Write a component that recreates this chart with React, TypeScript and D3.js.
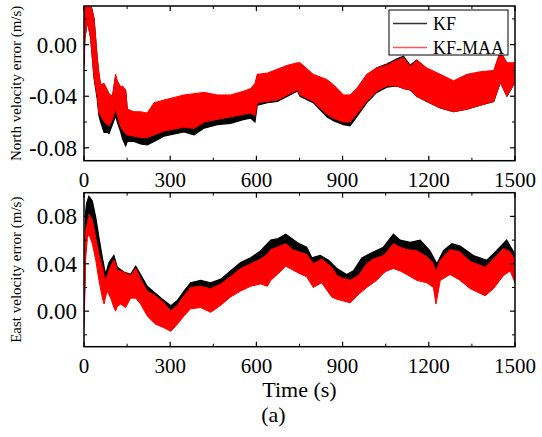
import React from "react";
import * as d3 from "d3";

// ---- data: [time (s), lower envelope, upper envelope] of each noisy series ----
const timeTicks = [0, 300, 600, 900, 1200, 1500];
const northTicks = [-0.08, -0.04, 0.0];
const eastTicks = [0.0, 0.04, 0.08];
const seriesNames = ["KF", "KF-MAA"];

const northKF: [number, number, number][] = [
  [0, -0.016, -0.005], [3, 0.005, 0.032], [12, 0.018, 0.032], [23, 0.006, 0.032],
  [35, -0.026, 0.02], [46, -0.042, -0.011], [52, -0.055, -0.024], [58, -0.06, -0.032],
  [70, -0.068, -0.032], [81, -0.068, -0.036], [87, -0.069, -0.039], [99, -0.062, -0.041],
  [110, -0.055, -0.025], [116, -0.06, -0.029], [128, -0.068, -0.034], [134, -0.073, -0.034],
  [145, -0.0785, -0.036], [151, -0.075, -0.052], [174, -0.075, -0.054], [197, -0.077, -0.055],
  [220, -0.0777, -0.055], [244, -0.075, -0.047], [278, -0.071, -0.045], [348, -0.0676, -0.041],
  [383, -0.07, -0.04], [418, -0.0647, -0.039], [464, -0.062, -0.041], [510, -0.061, -0.041],
  [557, -0.058, -0.038], [580, -0.057, -0.036], [595, -0.06, -0.033], [603, -0.047, -0.025],
  [638, -0.045, -0.024], [673, -0.044, -0.021], [708, -0.04, -0.017], [743, -0.036, -0.015],
  [752, -0.04, -0.015], [798, -0.045, -0.024], [845, -0.056, -0.028], [868, -0.059, -0.032],
  [903, -0.062, -0.04], [926, -0.063, -0.04], [949, -0.056, -0.035], [984, -0.045, -0.024],
  [1019, -0.037, -0.018], [1054, -0.033, -0.015], [1089, -0.032, -0.011], [1112, -0.034, -0.009],
  [1135, -0.035, -0.016], [1158, -0.04, -0.012], [1193, -0.044, -0.019], [1240, -0.049, -0.024],
  [1286, -0.052, -0.029], [1333, -0.05, -0.024], [1379, -0.047, -0.022], [1426, -0.044, -0.021],
  [1449, -0.029, -0.006], [1472, -0.04, -0.015], [1500, -0.029, -0.015],
];

const northMAA: [number, number, number][] = [
  [0, -0.016, -0.005], [3, 0.005, 0.032], [12, 0.018, 0.032], [23, 0.005, 0.032],
  [35, -0.025, 0.02], [46, -0.04, -0.01], [52, -0.053, -0.022], [58, -0.055, -0.031],
  [70, -0.06, -0.03], [81, -0.062, -0.035], [87, -0.063, -0.038], [99, -0.058, -0.04],
  [110, -0.05, -0.023], [116, -0.055, -0.028], [128, -0.064, -0.033], [134, -0.066, -0.032],
  [145, -0.069, -0.035], [151, -0.07, -0.05], [174, -0.071, -0.052], [197, -0.072, -0.052],
  [220, -0.072, -0.053], [244, -0.07, -0.045], [278, -0.067, -0.043], [348, -0.064, -0.039],
  [383, -0.065, -0.038], [418, -0.06, -0.037], [464, -0.058, -0.039], [510, -0.056, -0.039],
  [557, -0.054, -0.036], [580, -0.053, -0.034], [595, -0.055, -0.03], [603, -0.045, -0.023],
  [638, -0.044, -0.022], [673, -0.043, -0.019], [708, -0.039, -0.016], [743, -0.035, -0.014],
  [752, -0.039, -0.014], [798, -0.044, -0.023], [845, -0.054, -0.027], [868, -0.057, -0.031],
  [903, -0.06, -0.039], [926, -0.06, -0.039], [949, -0.054, -0.034], [984, -0.044, -0.023],
  [1019, -0.036, -0.018], [1054, -0.032, -0.016], [1089, -0.032, -0.012], [1112, -0.034, -0.01],
  [1135, -0.035, -0.017], [1158, -0.04, -0.012], [1193, -0.044, -0.018], [1240, -0.049, -0.023],
  [1286, -0.052, -0.028], [1333, -0.05, -0.023], [1379, -0.047, -0.021], [1426, -0.044, -0.02],
  [1449, -0.029, -0.005], [1472, -0.04, -0.014], [1500, -0.029, -0.014],
];

const eastKF: [number, number, number][] = [
  [0, -0.005, 0.01], [6, 0.06, 0.085], [9, 0.068, 0.091], [17, 0.075, 0.097],
  [29, 0.07, 0.093], [41, 0.058, 0.079], [52, 0.04, 0.062], [64, 0.025, 0.045],
  [75, 0.018, 0.031], [87, 0.022, 0.041], [104, 0.015, 0.047], [116, 0.012, 0.037],
  [139, 0.012, 0.033], [162, 0.015, 0.031], [180, 0.018, 0.038], [197, 0.014, 0.031],
  [220, 0.005, 0.021], [244, 0.0, 0.016], [273, -0.004, 0.01], [302, -0.008, 0.0045],
  [325, -0.004, 0.009], [348, 0.004, 0.017], [371, 0.01, 0.024], [406, 0.012, 0.026],
  [441, 0.01, 0.024], [476, 0.014, 0.027], [510, 0.02, 0.034], [545, 0.026, 0.041],
  [580, 0.03, 0.045], [615, 0.033, 0.051], [650, 0.04, 0.06], [673, 0.043, 0.061],
  [702, 0.046, 0.065], [725, 0.043, 0.061], [748, 0.04, 0.057], [775, 0.036, 0.054],
  [793, 0.03, 0.045], [822, 0.032, 0.047], [851, 0.027, 0.043], [880, 0.02, 0.036],
  [914, 0.016, 0.031], [938, 0.019, 0.034], [967, 0.028, 0.045], [1007, 0.033, 0.05],
  [1042, 0.038, 0.054], [1077, 0.046, 0.065], [1100, 0.042, 0.06], [1135, 0.04, 0.058],
  [1170, 0.039, 0.06], [1204, 0.033, 0.051], [1228, 0.024, 0.04], [1251, 0.034, 0.051],
  [1280, 0.04, 0.057], [1309, 0.038, 0.055], [1355, 0.03, 0.047], [1402, 0.027, 0.043],
  [1436, 0.034, 0.051], [1471, 0.042, 0.06], [1500, 0.032, 0.048],
];

const eastMAA: [number, number, number][] = [
  [0, -0.014, 0.0], [6, 0.045, 0.068], [12, 0.062, 0.074], [17, 0.065, 0.082],
  [29, 0.057, 0.077], [41, 0.043, 0.062], [52, 0.026, 0.048], [64, 0.011, 0.037],
  [70, 0.006, 0.03], [75, 0.012, 0.026], [81, 0.017, 0.03], [93, 0.011, 0.038],
  [104, 0.003, 0.043], [110, 0.0, 0.04], [116, 0.004, 0.034], [128, 0.006, 0.034],
  [145, 0.003, 0.032], [162, 0.011, 0.03], [180, 0.011, 0.036], [197, 0.006, 0.027],
  [220, -0.004, 0.017], [249, -0.011, 0.013], [278, -0.014, 0.007], [302, -0.017, 0.0],
  [325, -0.011, 0.005], [348, -0.004, 0.013], [371, 0.002, 0.02], [406, 0.003, 0.021],
  [441, -0.001, 0.019], [476, 0.005, 0.023], [510, 0.012, 0.029], [545, 0.017, 0.036],
  [580, 0.021, 0.04], [615, 0.023, 0.044], [638, 0.021, 0.048], [650, 0.026, 0.052],
  [673, 0.031, 0.054], [702, 0.038, 0.057], [725, 0.035, 0.052], [748, 0.032, 0.05],
  [775, 0.029, 0.048], [798, 0.02, 0.04], [827, 0.024, 0.044], [862, 0.012, 0.037],
  [880, 0.01, 0.03], [897, 0.009, 0.028], [926, 0.007, 0.026], [955, 0.014, 0.03],
  [984, 0.02, 0.04], [1007, 0.024, 0.044], [1019, 0.026, 0.045], [1042, 0.032, 0.047],
  [1054, 0.034, 0.05], [1077, 0.036, 0.057], [1100, 0.034, 0.054], [1123, 0.031, 0.052],
  [1158, 0.026, 0.051], [1193, 0.024, 0.046], [1216, 0.02, 0.04], [1225, 0.006, 0.033],
  [1240, 0.026, 0.043], [1274, 0.031, 0.052], [1309, 0.026, 0.05], [1344, 0.019, 0.042],
  [1396, 0.013, 0.037], [1425, 0.019, 0.044], [1460, 0.03, 0.053], [1483, 0.034, 0.05],
  [1500, 0.024, 0.043],
];

const FONT = "'Liberation Serif', 'Times New Roman', serif";
const X0 = 84;
const X1 = 515;

type PanelProps = {
  id: string;
  top: number;
  bottom: number;
  domain: [number, number];
  ticks: number[];
  minor: number[];
  kf: [number, number, number][];
  maa: [number, number, number][];
  ylabel: string;
};

function Panel({ id, top, bottom, domain, ticks, minor, kf, maa, ylabel }: PanelProps) {
  const x = d3.scaleLinear().domain([0, 1500]).range([X0, X1]);
  const y = d3.scaleLinear().domain(domain).range([bottom, top]);
  const area = d3
    .area<[number, number, number]>()
    .x((d) => x(d[0]))
    .y0((d) => y(d[1]))
    .y1((d) => y(d[2]));
  const xMinor = d3.range(150, 1500, 300);
  const fmt = (v: number) => (Math.abs(v) < 1e-9 ? "0.00" : v.toFixed(2));
  return (
    <g>
      <defs>
        <clipPath id={id}>
          <rect x={X0} y={top} width={X1 - X0} height={bottom - top} />
        </clipPath>
      </defs>
      <g clipPath={`url(#${id})`}>
        <path d={area(kf) || ""} fill="#000" stroke="#000" strokeWidth={1.2} strokeLinejoin="miter" />
        <path d={area(maa) || ""} fill="#ff0000" stroke="#ff0000" strokeWidth={1} strokeLinejoin="miter" />
      </g>
      <rect x={X0} y={top} width={X1 - X0} height={bottom - top} fill="none" stroke="#000" strokeWidth={1.5} />
      {timeTicks.map((t) => (
        <g key={"xt" + t}>
          <line x1={x(t)} x2={x(t)} y1={bottom} y2={bottom - 5} stroke="#000" strokeWidth={1.2} />
          <line x1={x(t)} x2={x(t)} y1={top} y2={top + 5} stroke="#000" strokeWidth={1.2} />
          <text x={x(t)} y={bottom + 26} textAnchor="middle" fontFamily={FONT} fontSize={21}>
            {t}
          </text>
        </g>
      ))}
      {xMinor.map((t) => (
        <g key={"xm" + t}>
          <line x1={x(t)} x2={x(t)} y1={bottom} y2={bottom - 3} stroke="#000" strokeWidth={1} />
          <line x1={x(t)} x2={x(t)} y1={top} y2={top + 3} stroke="#000" strokeWidth={1} />
        </g>
      ))}
      {ticks.map((v) => (
        <g key={"yt" + v}>
          <line x1={X0} x2={X0 + 5} y1={y(v)} y2={y(v)} stroke="#000" strokeWidth={1.2} />
          <line x1={X1} x2={X1 - 5} y1={y(v)} y2={y(v)} stroke="#000" strokeWidth={1.2} />
          <text x={77} y={y(v) + 8} textAnchor="end" fontFamily={FONT} fontSize={23}>
            {fmt(v)}
          </text>
        </g>
      ))}
      {minor.map((v) => (
        <g key={"ym" + v}>
          <line x1={X0} x2={X0 + 3} y1={y(v)} y2={y(v)} stroke="#000" strokeWidth={1} />
          <line x1={X1} x2={X1 - 3} y1={y(v)} y2={y(v)} stroke="#000" strokeWidth={1} />
        </g>
      ))}
      <text
        transform={`translate(21,${(top + bottom) / 2}) rotate(-90)`}
        textAnchor="middle"
        fontFamily={FONT}
        fontSize={15}
      >
        {ylabel}
      </text>
    </g>
  );
}

export default function App() {
  return (
    <svg
      width={542}
      height={437}
      viewBox="0 0 542 437"
      style={{ position: "absolute", left: 0, top: 0, background: "#fff" }}
    >
      <rect width={542} height={437} fill="#fff" />
      <Panel
        id="clipN"
        top={6}
        bottom={160.7}
        domain={[-0.09, 0.03]}
        ticks={northTicks}
        minor={[-0.06, -0.02, 0.02]}
        kf={northKF}
        maa={northMAA}
        ylabel="North velocity error (m/s)"
      />
      <Panel
        id="clipE"
        top={192.7}
        bottom={346.7}
        domain={[-0.03, 0.1]}
        ticks={eastTicks}
        minor={[-0.02, 0.02, 0.06]}
        kf={eastKF}
        maa={eastMAA}
        ylabel="East velocity error (m/s)"
      />
      {/* legend */}
      <g>
        <rect x={389} y={10} width={119} height={45} fill="#fff" stroke="#000" strokeWidth={1} />
        <line x1={393} x2={427} y1={23.5} y2={23.5} stroke="#333" strokeWidth={1.5} />
        <text x={433} y={29.5} fontFamily={FONT} fontSize={18}>
          {seriesNames[0]}
        </text>
        <line x1={393} x2={427} y1={47.5} y2={47.5} stroke="#ff5555" strokeWidth={1.5} />
        <text x={433} y={53.5} fontFamily={FONT} fontSize={18}>
          {seriesNames[1]}
        </text>
      </g>
      <text x={299.5} y={397} textAnchor="middle" fontFamily={FONT} fontSize={22}>
        Time (s)
      </text>
      <text x={273.5} y={422} textAnchor="middle" fontFamily={FONT} fontSize={22}>
        (a)
      </text>
    </svg>
  );
}
